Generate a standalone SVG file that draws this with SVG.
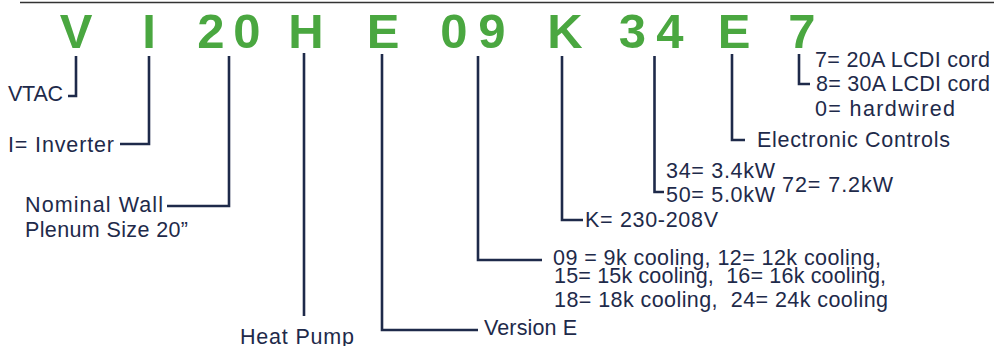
<svg xmlns="http://www.w3.org/2000/svg" width="994" height="346" viewBox="0 0 994 346">
<style>
.code{font-family:"Liberation Sans",Arial,sans-serif;font-weight:bold;font-size:49px;fill:#4aa740;text-anchor:middle}
.lbl{font-family:"Liberation Sans",Arial,sans-serif;font-size:21.5px;fill:#1e2a4a;white-space:pre}
.con{fill:none;stroke:#1e2a4a;stroke-width:2.6;stroke-linejoin:miter;stroke-linecap:butt}
</style>
<rect width="994" height="346" fill="#ffffff"/>
<line x1="20" y1="2.5" x2="994" y2="2.5" stroke="#333333" stroke-width="1.6"/>
<g id="connectors">
<path class="con" d="M76,56 V96 H68"/>
<path class="con" d="M149,56 V144 H120"/>
<path class="con" d="M229,56 V206 H167"/>
<path class="con" d="M304,53 V316"/>
<path class="con" d="M382,54 V330 H478"/>
<path class="con" d="M478,56 V260 H542"/>
<path class="con" d="M562,56 V220 H583"/>
<path class="con" d="M654.5,56 V192 H664"/>
<path class="con" d="M732,54 V140 H745"/>
<path class="con" d="M799,54 V84 H810"/>
</g>
<g id="seg-V"><text class="code" x="76" y="48">V</text><text class="lbl" x="8" y="101" textLength="55">VTAC</text></g>
<g id="seg-I"><text class="code" x="149" y="48">I</text><text class="lbl" x="8" y="152" textLength="106">I= Inverter</text></g>
<g id="seg-20"><text class="code" x="211" y="48">2</text><text class="code" x="247" y="48">0</text><text class="lbl" x="25" y="212" textLength="138">Nominal Wall</text><text class="lbl" x="25" y="237" textLength="163">Plenum Size 20”</text></g>
<g id="seg-H"><text class="code" x="306" y="48">H</text><text class="lbl" x="240" y="344" textLength="114">Heat Pump</text></g>
<g id="seg-E"><text class="code" x="383" y="48">E</text><text class="lbl" x="484" y="335" textLength="93">Version E</text></g>
<g id="seg-09"><text class="code" x="454" y="48">0</text><text class="code" x="492" y="48">9</text><text class="lbl" x="553" y="265" textLength="328">09 = 9k cooling, 12= 12k cooling,</text><text class="lbl" x="554" y="283" textLength="332">15= 15k cooling,  16= 16k cooling,</text><text class="lbl" x="554" y="307" textLength="334">18= 18k cooling,  24= 24k cooling</text></g>
<g id="seg-K"><text class="code" x="565" y="48">K</text><text class="lbl" x="585" y="227" textLength="133">K= 230-208V</text></g>
<g id="seg-34"><text class="code" x="632.5" y="48">3</text><text class="code" x="670" y="48">4</text><text class="lbl" x="666" y="178" textLength="109">34= 3.4kW</text><text class="lbl" x="666" y="202" textLength="109">50= 5.0kW</text><text class="lbl" x="782" y="192" textLength="111">72= 7.2kW</text></g>
<g id="seg-E2"><text class="code" x="734" y="48">E</text><text class="lbl" x="757" y="147" textLength="193">Electronic Controls</text></g>
<g id="seg-7"><text class="code" x="802" y="48">7</text><text class="lbl" x="815" y="67" textLength="175">7= 20A LCDI cord</text><text class="lbl" x="816" y="91" textLength="174">8= 30A LCDI cord</text><text class="lbl" x="815" y="116" textLength="140">0= hardwired</text></g>
</svg>
